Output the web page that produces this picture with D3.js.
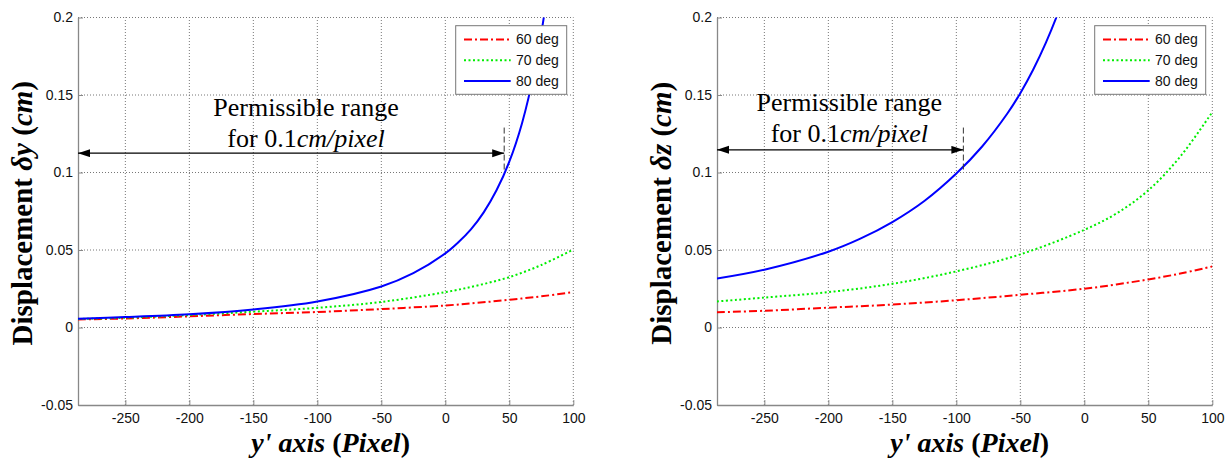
<!DOCTYPE html>
<html>
<head>
<meta charset="utf-8">
<script src="https://cdn.jsdelivr.net/npm/d3@7"></script>
<style>
body { margin: 0; background: #fff; }
</style>
</head>
<body>
<div class="figure"></div>
<script>
var width = 1231
var height = 459

// pixel positions along y' where the slow curves were read
var pixelX = [-287, -250, -200, -150, -100, -50, 0, 25, 50, 75, 100]

// left panel: displacement dy (cm)
var dy60 = [0.0052, 0.0058, 0.0072, 0.0087, 0.0100, 0.0119, 0.0142, 0.0159, 0.0179, 0.0201, 0.0228]
var dy70 = [0.0055, 0.0063, 0.0080, 0.0102, 0.0127, 0.0165, 0.0228, 0.0271, 0.0325, 0.0403, 0.0503]
var dy80X = [-287, -250, -200, -150, -100, -50, -25, 0, 10, 20, 30, 40, 50, 60, 70, 77, 85]
var dy80 = [0.0057, 0.0067, 0.0085, 0.0116, 0.0168, 0.0265, 0.0351, 0.0478, 0.0548, 0.0633, 0.0743, 0.0885, 0.107, 0.132, 0.167, 0.2003, 0.249]

// right panel: displacement dz (cm)
var dz60 = [0.0098, 0.0108, 0.0128, 0.0148, 0.0176, 0.0211, 0.0250, 0.0278, 0.0310, 0.0348, 0.0394]
var dz70 = [0.0168, 0.0193, 0.0228, 0.0282, 0.0362, 0.0472, 0.0630, 0.0735, 0.0885, 0.1103, 0.139]
var dz80X = [-287, -250, -200, -175, -150, -125, -100, -80, -60, -50, -40, -30, -20, -10]
var dz80 = [0.0316, 0.0373, 0.0489, 0.0573, 0.068, 0.0816, 0.0993, 0.1166, 0.1382, 0.1512, 0.1663, 0.1838, 0.2041, 0.2278]

var xTicks = [-250, -200, -150, -100, -50, 0, 50, 100]
var yTicks = [-0.05, 0, 0.05, 0.1, 0.15, 0.2]
var xDomain = [-287, 100]
var yDomain = [-0.05, 0.2]

var seriesNames = ['60 deg', '70 deg', '80 deg']
var seriesColors = ['#ff0000', '#00ee00', '#0000ff']
var seriesDash = ['8,3,2,3', '2,2.5', null]

var plotTop = 17.5
var plotBottom = 405
var plotW = 495.3

var svg = d3.select('.figure').append('svg')
    .attr('width', width)
    .attr('height', height)
    .style('font-family', '"Liberation Sans", Arial, sans-serif')

var defs = svg.append('defs')
defs.append('marker')
    .attr('id', 'head')
    .attr('markerUnits', 'userSpaceOnUse')
    .attr('markerWidth', 13).attr('markerHeight', 9)
    .attr('refX', 12).attr('refY', 4)
    .attr('orient', 'auto-start-reverse')
    .append('path')
    .attr('d', 'M0,0 L12,4 L0,8 Z')
    .attr('fill', '#000')

function zip(xs, ys) {
    return xs.map(function (v, i) { return [v, ys[i]] })
}

function drawPanel(p) {
    var x = d3.scaleLinear().domain(xDomain).range([p.left, p.left + plotW])
    var y = d3.scaleLinear().domain(yDomain).range([plotBottom, plotTop])
    var g = svg.append('g')

    defs.append('clipPath').attr('id', p.id)
        .append('rect')
        .attr('x', x(xDomain[0])).attr('y', y(yDomain[1]))
        .attr('width', plotW).attr('height', plotBottom - plotTop)

    // dotted grid
    g.selectAll('.vgrid').data(xTicks).enter().append('line')
        .attr('x1', function (d) { return x(d) }).attr('x2', function (d) { return x(d) })
        .attr('y1', y(yDomain[0])).attr('y2', y(yDomain[1]))
        .attr('stroke', '#777').attr('stroke-dasharray', '1,2')
    g.selectAll('.hgrid').data(yTicks.slice(1)).enter().append('line')
        .attr('y1', function (d) { return y(d) }).attr('y2', function (d) { return y(d) })
        .attr('x1', x(xDomain[0])).attr('x2', x(xDomain[1]))
        .attr('stroke', '#777').attr('stroke-dasharray', '1,2')

    var xAxis = g.append('g')
        .attr('transform', 'translate(0,' + plotBottom + ')')
        .call(d3.axisBottom(x).tickValues(xTicks).tickSizeInner(-5).tickSizeOuter(0)
            .tickPadding(8).tickFormat(function (d) { return String(d) }))
    var yAxis = g.append('g')
        .attr('transform', 'translate(' + p.left + ',0)')
        .call(d3.axisLeft(y).tickValues(yTicks).tickSizeInner(-5).tickSizeOuter(0)
            .tickPadding(5).tickFormat(function (d) { return String(d) }))
    ;[xAxis, yAxis].forEach(function (a) {
        a.select('.domain').attr('stroke', '#888').attr('stroke-width', 1.3)
        a.selectAll('.tick line').attr('stroke', '#888')
        a.selectAll('text').attr('fill', '#111').style('font-size', '14px')
            .style('font-family', '"Liberation Sans", Arial, sans-serif')
    })

    // curves
    var line = d3.line()
        .x(function (d) { return x(d[0]) })
        .y(function (d) { return y(d[1]) })
        .curve(d3.curveCatmullRom.alpha(0.5))
    var curves = g.append('g').attr('clip-path', 'url(#' + p.id + ')')
    p.series.forEach(function (s, i) {
        curves.append('path')
            .datum(zip(s[0], s[1]))
            .attr('d', line)
            .attr('fill', 'none')
            .attr('stroke', seriesColors[i])
            .attr('stroke-width', 2)
            .attr('stroke-dasharray', seriesDash[i])
    })

    // permissible range annotation
    g.append('line')
        .attr('x1', x(xDomain[0])).attr('x2', x(p.limit))
        .attr('y1', y(p.arrowY)).attr('y2', y(p.arrowY))
        .attr('stroke', '#000').attr('stroke-width', 1.3)
        .attr('marker-start', 'url(#head)').attr('marker-end', 'url(#head)')
    g.append('line')
        .attr('x1', x(p.limit)).attr('x2', x(p.limit))
        .attr('y1', y(0.129)).attr('y2', y(p.limitY))
        .attr('stroke', '#333').attr('stroke-width', 1).attr('stroke-dasharray', '6,3')

    var note = g.append('g')
        .style('font-family', '"Liberation Serif", "Times New Roman", serif')
        .style('font-size', '26px')
        .attr('text-anchor', 'middle')
    note.append('text')
        .attr('x', x(p.noteX)).attr('y', y(p.noteY))
        .text('Permissible range')
    var l2 = note.append('text')
        .attr('x', x(p.noteX)).attr('y', y(p.noteY) + 31)
    l2.append('tspan').text('for 0.1')
    l2.append('tspan').style('font-style', 'italic').text('cm/pixel')

    // legend
    var lx = p.left + plotW - 117.6
    var leg = g.append('g').attr('transform', 'translate(' + lx + ',25.7)')
    leg.append('rect').attr('width', 111).attr('height', 68.6)
        .attr('fill', '#fff').attr('stroke', '#777')
    seriesNames.forEach(function (name, i) {
        var ry = 13.8 + i * 20.8
        leg.append('line')
            .attr('x1', 8.3).attr('x2', 55).attr('y1', ry).attr('y2', ry)
            .attr('stroke', seriesColors[i]).attr('stroke-width', 2)
            .attr('stroke-dasharray', seriesDash[i])
        leg.append('text').attr('x', 60.3).attr('y', ry).attr('dy', '0.35em')
            .style('font-size', '14px').attr('fill', '#111').text(name)
    })

    // axis titles
    var xt = g.append('text')
        .attr('x', p.left + plotW / 2 + 5).attr('y', 452)
        .attr('text-anchor', 'middle')
        .style('font-family', '"Liberation Serif", "Times New Roman", serif')
        .style('font-size', '28px').style('font-weight', 'bold')
    xt.append('tspan').style('font-style', 'italic').text("y' axis ")
    xt.append('tspan').text('(')
    xt.append('tspan').style('font-style', 'italic').text('Pixel')
    xt.append('tspan').text(')')

    var yt = g.append('text')
        .attr('transform', 'translate(' + (p.left - 46) + ',' + ((plotTop + plotBottom) / 2 + 2) + ') rotate(-90)')
        .attr('text-anchor', 'middle')
        .style('font-family', '"Liberation Serif", "Times New Roman", serif')
        .style('font-size', '29px').style('font-weight', 'bold')
    yt.append('tspan').text('Displacement ')
    yt.append('tspan').style('font-style', 'italic').text('\u03b4' + p.axisLetter)
    yt.append('tspan').text(' (')
    yt.append('tspan').style('font-style', 'italic').text('cm')
    yt.append('tspan').text(')')
}

drawPanel({
    id: 'clipLeft', left: 78, axisLetter: 'y',
    series: [[pixelX, dy60], [pixelX, dy70], [dy80X, dy80]],
    limit: 46, limitY: 0.101, arrowY: 0.1125,
    noteX: -108.8, noteY: 0.1363
})
drawPanel({
    id: 'clipRight', left: 717, axisLetter: 'z',
    series: [[pixelX, dz60], [pixelX, dz70], [dz80X, dz80]],
    limit: -94.5, limitY: 0.1, arrowY: 0.1146,
    noteX: -183.6, noteY: 0.1396
})
</script>
</body>
</html>
